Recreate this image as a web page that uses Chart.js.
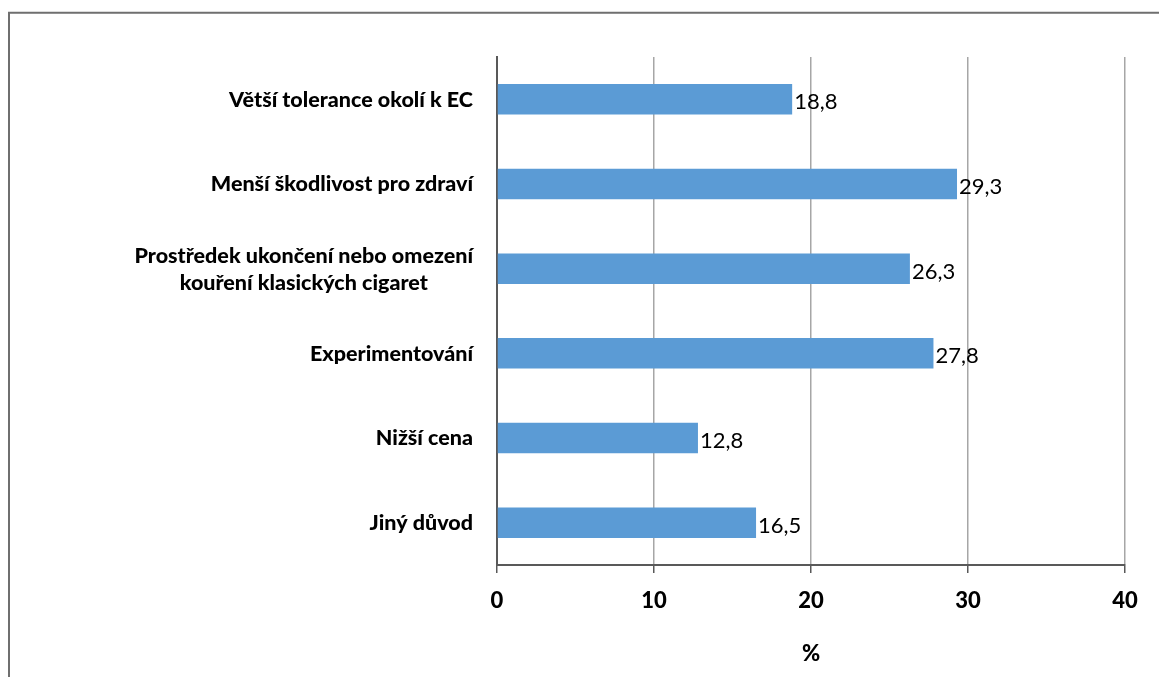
<!DOCTYPE html>
<html lang="cs">
<head>
<meta charset="utf-8">
<title>Důvody užívání EC</title>
<script src="https://cdn.jsdelivr.net/npm/chart.js@4/dist/chart.umd.min.js"></script>
<style>
  html, body { margin: 0; padding: 0; background: #ffffff; }
  #wrap { width: 1159px; height: 677px; position: relative; }
</style>
</head>
<body>
<div id="wrap"><canvas id="chart" width="1159" height="677"></canvas></div>
<script>
// Categories (top to bottom) and their percentages
const categories = [
  'Větší tolerance okolí k EC',
  'Menší škodlivost pro zdraví',
  ['Prostředek ukončení nebo omezení', 'kouření klasických cigaret'],
  'Experimentování',
  'Nižší cena',
  'Jiný důvod'
];
const values = [18.8, 29.3, 26.3, 27.8, 12.8, 16.5];
const axisTitle = '%';
const xMin = 0, xMax = 40, xStep = 10;

const FONT = 'Lato, "Open Sans", sans-serif';
const AXIS_COLOR = '#595959';
const GRID_COLOR = '#a6a6a6';
const BAR_COLOR = '#5b9bd5';

// Outer frame of the chart object (left and top edges)
const framePlugin = {
  id: 'frame',
  beforeDraw(chart) {
    const ctx = chart.ctx;
    ctx.save();
    ctx.strokeStyle = '#6f6f6f';
    ctx.lineWidth = 2;
    ctx.beginPath();
    ctx.moveTo(9, chart.height + 2);
    ctx.lineTo(9, 12.7);
    ctx.lineTo(chart.width + 2, 12.7);
    ctx.stroke();
    ctx.restore();
  }
};

// Category labels: right-aligned block, multi-line blocks centred inside
const categoryLabelPlugin = {
  id: 'categoryLabels',
  afterDraw(chart) {
    const ctx = chart.ctx;
    const yScale = chart.scales.y;
    const right = chart.chartArea.left - 24;
    const lineH = 27;
    ctx.save();
    ctx.font = '900 21.5px ' + FONT;
    ctx.fillStyle = '#000000';
    ctx.textBaseline = 'middle';
    ctx.textAlign = 'center';
    categories.forEach((lab, i) => {
      const lines = Array.isArray(lab) ? lab : [lab];
      const w = Math.max(...lines.map(l => ctx.measureText(l).width));
      const cx = right - w / 2;
      const cy = yScale.getPixelForTick(i) + 0.5;
      const y0 = cy - (lines.length - 1) * lineH / 2;
      lines.forEach((l, k) => ctx.fillText(l, cx, y0 + k * lineH));
    });
    ctx.restore();
  }
};

// Value labels at the end of each bar, with decimal comma
const valueLabelPlugin = {
  id: 'valueLabels',
  afterDatasetsDraw(chart) {
    const ctx = chart.ctx;
    const meta = chart.getDatasetMeta(0);
    ctx.save();
    ctx.font = '22px ' + FONT;
    ctx.fillStyle = '#000000';
    ctx.textBaseline = 'middle';
    ctx.textAlign = 'left';
    meta.data.forEach((bar, i) => {
      const txt = values[i].toFixed(1).replace('.', ',');
      ctx.fillText(txt, bar.x + 2, bar.y + 3);
    });
    ctx.restore();
  }
};

new Chart(document.getElementById('chart'), {
  type: 'bar',
  data: {
    labels: categories,
    datasets: [{
      data: values,
      backgroundColor: BAR_COLOR,
      borderWidth: 0,
      barPercentage: 0.36,
      categoryPercentage: 1
    }]
  },
  options: {
    indexAxis: 'y',
    responsive: false,
    animation: false,
    events: [],
    layout: { padding: { top: 57, right: 34, left: 0, bottom: 0 } },
    plugins: {
      legend: { display: false },
      tooltip: { enabled: false }
    },
    scales: {
      x: {
        min: xMin,
        max: xMax,
        afterFit(scale) { scale.height = 112; },
        ticks: {
          stepSize: xStep,
          padding: 15,
          color: '#000000',
          font: { family: FONT, size: 22, weight: '900' }
        },
        grid: {
          color: GRID_COLOR,
          lineWidth: 1.5,
          tickColor: AXIS_COLOR,
          tickLength: 8,
          tickWidth: 1.5
        },
        border: { color: AXIS_COLOR, width: 2 },
        title: {
          display: true,
          text: axisTitle,
          color: '#000000',
          padding: { top: 0, bottom: 10 },
          font: { family: FONT, size: 22, weight: '900' }
        }
      },
      y: {
        afterFit(scale) { scale.width = 497; },
        ticks: { display: false },
        grid: { display: false },
        border: { color: AXIS_COLOR, width: 2 }
      }
    }
  },
  plugins: [framePlugin, categoryLabelPlugin, valueLabelPlugin]
});
</script>
</body>
</html>
